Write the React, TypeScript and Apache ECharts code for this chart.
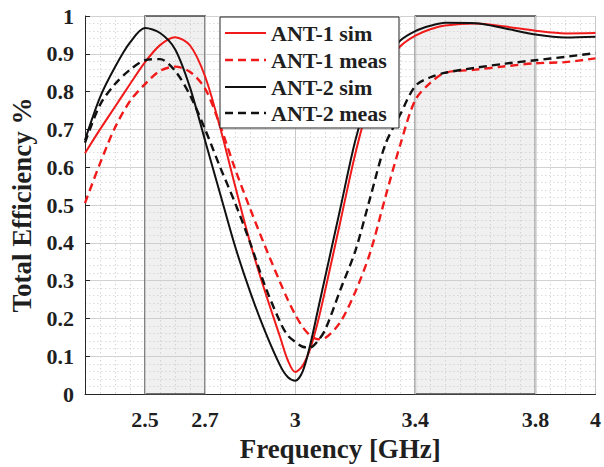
import React, { useEffect, useRef } from "react";
import * as echarts from "echarts";

// Frequency sweep (GHz)
const freq = [
  2.3, 2.35, 2.4, 2.45, 2.5, 2.55, 2.6, 2.65, 2.7, 2.75, 2.8, 2.85, 2.9, 2.95, 2.975, 3.0,
  3.025, 3.05, 3.075, 3.1, 3.15, 3.2, 3.25, 3.3, 3.35, 3.4, 3.45, 3.5, 3.6, 3.7, 3.8, 3.9, 4.0,
];

// Total efficiency per antenna
const ant1Sim = [
  0.637, 0.7, 0.76, 0.82, 0.878, 0.923, 0.944, 0.922, 0.84, 0.705, 0.55, 0.4, 0.27, 0.15, 0.09, 0.058,
  0.075, 0.12, 0.19, 0.275, 0.455, 0.635, 0.78, 0.87, 0.92, 0.948, 0.965, 0.975, 0.98, 0.972, 0.961, 0.954, 0.955,
];
const ant1Meas = [
  0.505, 0.61, 0.705, 0.775, 0.82, 0.855, 0.866, 0.852, 0.808, 0.71, 0.595, 0.49, 0.39, 0.295, 0.25, 0.21,
  0.177, 0.155, 0.145, 0.148, 0.19, 0.27, 0.375, 0.52, 0.66, 0.778, 0.823, 0.85, 0.858, 0.867, 0.875, 0.878, 0.888,
];
const ant2Sim = [
  0.672, 0.785, 0.865, 0.93, 0.968, 0.955, 0.912, 0.81, 0.67, 0.53, 0.39, 0.27, 0.165, 0.075, 0.045, 0.035,
  0.06, 0.13, 0.22, 0.31, 0.49, 0.67, 0.8, 0.885, 0.935, 0.96, 0.974, 0.982, 0.981, 0.967, 0.951, 0.943, 0.945,
];
const ant2Meas = [
  0.665, 0.765, 0.82, 0.858, 0.883, 0.886, 0.855, 0.79, 0.7, 0.6, 0.505, 0.4, 0.285, 0.19, 0.155, 0.138,
  0.125, 0.123, 0.14, 0.17, 0.275, 0.378, 0.52, 0.66, 0.74, 0.815, 0.838, 0.85, 0.863, 0.874, 0.883, 0.892, 0.902,
];

const xTicks = [2.5, 2.7, 3, 3.4, 3.8, 4];
const bands = [
  [2.5, 2.7],
  [3.4, 3.8],
];

const FONT = "Liberation Serif";
const TEXT = "#1f1f1f";
const RED = "#f01a1a";
const BLACK = "#111111";

const traces = [
  { name: "ANT-1 sim", values: ant1Sim, color: RED, dashed: false },
  { name: "ANT-1 meas", values: ant1Meas, color: RED, dashed: true },
  { name: "ANT-2 sim", values: ant2Sim, color: BLACK, dashed: false },
  { name: "ANT-2 meas", values: ant2Meas, color: BLACK, dashed: true },
];

const DASH = [8, 5];
const pairs = (ys: number[]) => freq.map((f, i) => [f, ys[i]]);

// Boxed legend in the upper middle of the plot
function legendGraphic() {
  const left = 220;
  const top = 17;
  const width = 179;
  const rowY = [33, 60, 87, 113];
  const children: any[] = [
    {
      type: "rect",
      z: 100,
      shape: { x: left, y: top, width, height: 111 },
      style: { fill: "#ffffff", stroke: "#222222", lineWidth: 1 },
    },
  ];
  traces.forEach((t, i) => {
    children.push({
      type: "line",
      z: 101,
      shape: { x1: left + 5, y1: rowY[i], x2: left + 46, y2: rowY[i] },
      style: {
        stroke: t.color,
        lineWidth: t.dashed ? 2.4 : 2,
        lineDash: t.dashed ? DASH : null,
      },
    });
    children.push({
      type: "text",
      z: 101,
      x: left + 51,
      y: rowY[i],
      style: {
        text: t.name,
        fill: TEXT,
        font: `bold 22px ${FONT}`,
        verticalAlign: "middle",
        align: "left",
      },
    });
  });
  return [{ type: "group", z: 100, children }];
}

const tickStyle = { fontFamily: FONT, fontWeight: "bold", fontSize: 22, color: TEXT };
const nameStyle = { fontFamily: FONT, fontWeight: "bold", fontSize: 27, color: TEXT };

export default function App() {
  const ref = useRef<HTMLDivElement>(null);

  useEffect(() => {
    if (!ref.current) return;
    const chart = echarts.init(ref.current, null, { renderer: "svg" });

    chart.setOption({
      animation: false,
      backgroundColor: "#ffffff",
      textStyle: { fontFamily: FONT },
      grid: { left: 85, right: 7, top: 16, bottom: 73, containLabel: false },
      graphic: legendGraphic(),
      xAxis: [
        {
          type: "value",
          min: 2.3,
          max: 4,
          interval: 0.1,
          name: "Frequency [GHz]",
          nameLocation: "middle",
          nameGap: 41,
          nameTextStyle: nameStyle,
          axisLine: { show: true, onZero: false, lineStyle: { color: "#262626", width: 1 } },
          axisTick: { show: true, inside: true, length: 5, customValues: xTicks, lineStyle: { color: "#262626" } },
          axisLabel: { customValues: xTicks, margin: 14, ...tickStyle },
          splitLine: { show: false },
        },
        {
          // fine dotted grid every 0.05 GHz
          type: "value",
          min: 2.3,
          max: 4,
          interval: 0.05,
          position: "bottom",
          axisLine: { show: false },
          axisTick: { show: false },
          axisLabel: { show: false },
          splitLine: { show: true, lineStyle: { color: "#d6d6d6", width: 1, type: [1.5, 2.5] } },
        },
      ],
      yAxis: {
        type: "value",
        min: 0,
        max: 1,
        interval: 0.1,
        name: "Total Efficiency %",
        nameLocation: "middle",
        nameGap: 48,
        nameTextStyle: nameStyle,
        axisLine: { show: true, lineStyle: { color: "#262626", width: 1 } },
        axisTick: { show: true, inside: true, length: 5, lineStyle: { color: "#262626" } },
        axisLabel: { margin: 11, ...tickStyle },
        splitLine: { show: true, lineStyle: { color: "#d2d2d2", width: 1 } },
        minorTick: { show: false, splitNumber: 5 },
        minorSplitLine: { show: true, lineStyle: { color: "#dcdcdc", width: 1, type: [1.5, 2.5] } },
      },
      series: [
        {
          name: "bands",
          type: "line",
          data: [],
          z: 2,
          silent: true,
          markArea: {
            silent: true,
            itemStyle: {
              color: "rgba(200,200,200,0.28)",
              borderColor: "#4a4a4a",
              borderWidth: 1.5,
            },
            data: bands.map(([a, b]) => [{ xAxis: a, yAxis: 0 }, { xAxis: b, yAxis: 1 }]),
          },
          markLine: {
            silent: true,
            symbol: "none",
            label: { show: false },
            lineStyle: { color: "#c8c8c8", width: 1, type: "solid" },
            data: xTicks.map((v) => ({ xAxis: v })),
          },
        },
        ...traces.map((t) => ({
          name: t.name,
          type: "line",
          data: pairs(t.values),
          symbol: "none",
          smooth: 0.3,
          z: 5,
          lineStyle: {
            color: t.color,
            width: t.dashed ? 2.4 : 2,
            type: t.dashed ? DASH : "solid",
          },
          itemStyle: { color: t.color },
        })),
      ],
    });

    return () => chart.dispose();
  }, []);

  return (
    <div
      ref={ref}
      style={{ position: "absolute", left: 0, top: 0, width: 604, height: 467, background: "#ffffff" }}
    />
  );
}
